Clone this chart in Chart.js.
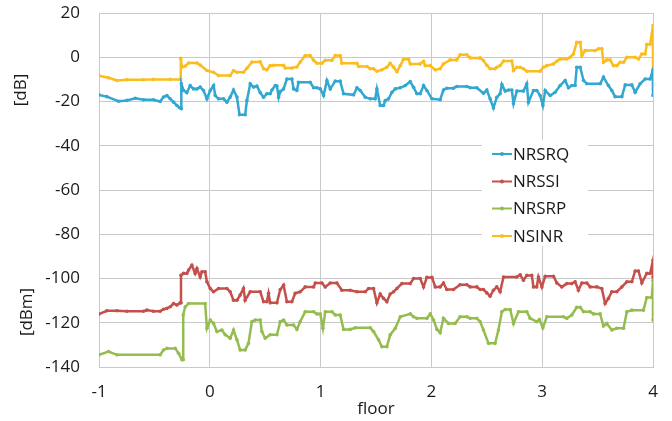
<!DOCTYPE html>
<html>
<head>
<meta charset="utf-8">
<script src="https://cdn.jsdelivr.net/npm/chart.js@4/dist/chart.umd.min.js"></script>
<style>
  html, body { margin: 0; padding: 0; background: #fff; }
</style>
</head>
<body>
<canvas id="chart" width="672" height="421"></canvas>
<script>
// floor positions and values
const nrsrqX = [-1.0,-0.929,-0.824,-0.748,-0.673,-0.598,-0.508,-0.448,-0.418,-0.387,-0.357,-0.327,-0.297,-0.273,-0.257,-0.257,-0.237,-0.207,-0.177,-0.147,-0.116,-0.087,-0.057,-0.026,0.004,0.034,0.049,0.079,0.124,0.154,0.184,0.214,0.245,0.268,0.319,0.335,0.365,0.395,0.425,0.455,0.485,0.515,0.545,0.561,0.591,0.606,0.621,0.636,0.666,0.696,0.741,0.756,0.786,0.801,0.906,0.937,0.967,0.997,1.027,1.057,1.087,1.132,1.177,1.207,1.298,1.328,1.358,1.403,1.448,1.493,1.508,1.538,1.568,1.583,1.613,1.644,1.674,1.719,1.764,1.809,1.839,1.869,1.899,1.929,1.959,2.005,2.079,2.109,2.139,2.199,2.229,2.320,2.350,2.410,2.470,2.500,2.530,2.560,2.590,2.620,2.636,2.666,2.696,2.726,2.741,2.771,2.831,2.861,2.876,2.921,2.951,2.981,3.006,3.027,3.072,3.117,3.162,3.207,3.237,3.267,3.297,3.312,3.343,3.373,3.403,3.523,3.553,3.598,3.628,3.658,3.719,3.749,3.809,3.839,3.884,3.929,3.974,3.998,4.0];
const nrsrqY = [-17.0,-17.8,-19.9,-19.5,-18.5,-19.2,-19.2,-20.0,-18.0,-17.3,-18.8,-20.3,-21.8,-22.8,-23.2,-12.0,-15.0,-16.0,-12.8,-14.3,-14.3,-13.5,-15.0,-18.8,-15.0,-12.8,-17.3,-18.8,-18.8,-20.3,-18.0,-14.8,-18.0,-26.0,-26.0,-19.5,-12.0,-13.5,-13.0,-16.0,-18.1,-16.5,-16.5,-14.8,-12.8,-13.0,-18.1,-15.5,-14.3,-9.8,-9.8,-14.3,-15.0,-11.3,-11.3,-13.8,-13.8,-14.3,-17.3,-10.5,-14.3,-10.8,-10.8,-16.5,-17.0,-13.8,-15.0,-18.1,-18.8,-18.8,-14.3,-21.8,-21.8,-19.6,-18.8,-15.8,-14.3,-13.8,-12.8,-11.0,-13.6,-16.5,-16.5,-12.8,-15.0,-18.8,-19.2,-14.8,-14.0,-14.0,-13.2,-13.2,-13.8,-13.8,-16.3,-14.8,-18.8,-22.9,-18.1,-16.5,-12.3,-15.3,-14.8,-14.8,-20.9,-15.3,-15.3,-12.0,-20.3,-15.0,-15.0,-17.3,-21.8,-15.0,-17.3,-15.8,-12.8,-10.5,-13.8,-12.8,-12.8,-4.5,-4.5,-10.5,-12.0,-12.0,-9.0,-12.8,-15.0,-17.8,-17.8,-12.5,-12.5,-15.8,-12.0,-9.8,-9.8,-6.0,-17.3];

const nrssiX = [-1.0,-0.929,-0.838,-0.748,-0.598,-0.568,-0.508,-0.448,-0.418,-0.387,-0.357,-0.327,-0.297,-0.267,-0.260,-0.260,-0.237,-0.207,-0.192,-0.162,-0.132,-0.116,-0.087,-0.071,-0.042,-0.026,0.004,0.034,0.079,0.154,0.184,0.214,0.245,0.274,0.304,0.319,0.365,0.455,0.485,0.515,0.530,0.545,0.606,0.636,0.666,0.696,0.741,0.771,0.816,0.861,0.937,0.952,1.012,1.042,1.087,1.147,1.192,1.267,1.328,1.403,1.433,1.478,1.508,1.538,1.568,1.598,1.628,1.659,1.689,1.734,1.809,1.839,1.899,1.929,1.959,2.005,2.035,2.079,2.109,2.139,2.199,2.259,2.320,2.350,2.410,2.440,2.470,2.500,2.530,2.560,2.590,2.620,2.651,2.771,2.801,2.831,2.861,2.906,2.921,2.951,2.966,2.997,3.027,3.102,3.132,3.177,3.222,3.267,3.297,3.327,3.358,3.403,3.433,3.493,3.538,3.568,3.598,3.628,3.673,3.719,3.764,3.809,3.839,3.869,3.899,3.944,3.974,4.0,4.0];
const nrssiY = [-116.1,-114.6,-114.6,-114.8,-114.8,-114.3,-114.8,-114.8,-113.9,-113.5,-112.8,-111.3,-112.0,-111.0,-111.0,-98.5,-97.7,-97.7,-96.2,-94.0,-97.7,-95.5,-99.3,-97.0,-97.0,-101.5,-104.5,-106.0,-104.5,-104.5,-106.0,-109.8,-109.8,-107.5,-104.5,-109.8,-106.0,-106.0,-110.5,-110.5,-106.7,-111.0,-111.0,-105.0,-103.0,-110.5,-110.5,-106.7,-106.0,-103.8,-103.8,-102.0,-102.0,-103.8,-102.0,-102.0,-105.3,-105.3,-106.0,-106.0,-104.5,-104.5,-111.0,-107.0,-109.0,-110.5,-107.0,-106.0,-104.5,-102.3,-102.3,-100.0,-100.0,-103.8,-99.5,-99.5,-103.8,-103.8,-102.0,-105.0,-105.0,-102.8,-102.8,-103.8,-103.8,-105.0,-105.0,-106.5,-108.0,-105.3,-103.8,-106.0,-99.3,-99.3,-98.3,-100.8,-98.6,-98.6,-103.8,-103.8,-99.3,-103.8,-99.0,-99.0,-102.0,-103.8,-102.3,-102.3,-101.5,-105.3,-102.0,-102.0,-103.8,-103.8,-104.5,-111.3,-109.0,-106.0,-106.0,-103.8,-101.5,-101.5,-96.6,-96.6,-102.0,-97.7,-97.7,-91.8,-99.3];

const nrsrpX = [-1.0,-0.914,-0.838,-0.448,-0.418,-0.387,-0.312,-0.282,-0.252,-0.240,-0.240,-0.222,-0.192,-0.042,-0.026,0.004,0.034,0.064,0.109,0.139,0.184,0.214,0.245,0.274,0.319,0.349,0.380,0.410,0.455,0.470,0.500,0.545,0.606,0.636,0.666,0.696,0.756,0.786,0.816,0.861,0.937,0.967,0.997,1.021,1.042,1.102,1.132,1.177,1.207,1.267,1.313,1.448,1.478,1.523,1.553,1.598,1.628,1.674,1.719,1.809,1.839,1.869,1.959,1.990,2.020,2.050,2.079,2.109,2.154,2.214,2.259,2.320,2.350,2.410,2.440,2.470,2.515,2.575,2.605,2.636,2.666,2.711,2.741,2.786,2.861,2.891,2.951,2.975,3.006,3.042,3.192,3.222,3.267,3.312,3.343,3.373,3.433,3.463,3.523,3.553,3.583,3.628,3.673,3.734,3.764,3.809,3.914,3.944,3.989,4.0,4.0];
const nrsrpY = [-134.5,-133.0,-134.5,-134.5,-132.3,-131.6,-131.6,-133.8,-136.7,-136.7,-116.5,-112.8,-111.3,-111.3,-122.5,-118.8,-120.3,-124.0,-123.3,-125.4,-127.0,-123.3,-127.7,-132.3,-132.3,-129.3,-119.5,-118.8,-118.8,-124.0,-127.0,-125.4,-125.4,-119.5,-118.8,-121.0,-121.0,-123.0,-119.5,-115.0,-115.0,-116.0,-116.0,-122.5,-115.0,-115.0,-116.5,-116.5,-123.0,-123.0,-122.3,-122.3,-124.0,-127.7,-130.8,-130.8,-125.5,-122.5,-117.3,-116.0,-117.3,-118.0,-118.0,-116.0,-118.8,-123.0,-124.5,-118.0,-120.3,-120.3,-117.3,-117.3,-118.0,-118.0,-119.5,-123.3,-129.3,-129.3,-123.3,-115.0,-114.0,-114.0,-120.3,-115.0,-115.0,-118.0,-119.5,-118.5,-122.3,-117.3,-117.3,-118.0,-116.5,-113.0,-113.0,-115.0,-115.0,-116.0,-116.0,-121.5,-120.3,-123.3,-122.5,-122.5,-115.0,-114.3,-114.3,-108.6,-108.6,-100.8,-118.8];

const nsinrX = [-1.0,-0.914,-0.838,-0.748,-0.598,-0.508,-0.357,-0.262,-0.262,-0.252,-0.222,-0.192,-0.116,-0.087,-0.026,0.034,0.079,0.184,0.214,0.245,0.304,0.335,0.380,0.455,0.485,0.515,0.545,0.576,0.666,0.681,0.741,0.786,0.816,0.861,0.906,0.937,0.967,1.012,1.042,1.102,1.132,1.177,1.192,1.328,1.343,1.418,1.448,1.478,1.508,1.553,1.598,1.628,1.659,1.689,1.719,1.749,1.794,1.809,1.899,1.929,1.944,1.990,2.035,2.079,2.109,2.169,2.229,2.259,2.320,2.350,2.440,2.470,2.500,2.530,2.575,2.590,2.620,2.651,2.726,2.741,2.771,2.801,2.831,2.861,2.981,3.012,3.042,3.102,3.132,3.162,3.222,3.252,3.282,3.312,3.343,3.358,3.388,3.478,3.508,3.538,3.553,3.583,3.613,3.643,3.673,3.703,3.734,3.764,3.839,3.869,3.899,3.929,3.944,3.974,4.0,4.0];
const nsinrY = [-8.3,-9.3,-10.5,-10.2,-10.2,-10.0,-10.0,-10.0,-0.5,-4.5,-4.0,-2.6,-2.6,-3.5,-6.0,-6.8,-8.3,-8.3,-6.0,-6.8,-6.8,-5.0,-2.2,-2.0,-5.2,-5.7,-3.8,-3.6,-3.6,-4.9,-4.9,-4.4,-2.2,0.8,0.8,-1.4,-2.7,-2.7,-1.4,-1.4,0.8,0.8,-2.7,-2.7,-4.2,-4.2,-5.2,-5.2,-6.3,-5.7,-4.5,-2.7,-4.5,-6.5,-3.8,-0.9,-0.9,-3.0,-3.0,-1.8,-3.8,-3.8,-5.7,-5.2,-3.0,-1.2,-1.2,1.1,1.1,-0.3,-0.3,-1.5,-3.6,-5.2,-5.2,-4.5,-3.8,-1.7,-1.7,-6.0,-4.5,-4.5,-5.2,-6.3,-6.3,-4.5,-3.8,-3.0,-1.8,-0.8,-0.8,0.0,1.5,6.8,6.8,0.8,3.0,3.0,3.8,3.8,-2.3,-1.2,-1.2,-3.8,-3.8,-2.3,-2.3,0.0,0.0,-0.8,1.5,1.5,5.9,5.9,14.3,-5.5];

const seriesNames = ["NRSRQ", "NRSSI", "NRSRP", "NSINR"];
const seriesColors = ["#31a7d1", "#c4504c", "#95bc4f", "#fbbd1e"];
const yTicks = [-140, -120, -100, -80, -60, -40, -20, 0, 20];

function toPoints(xs, ys) {
  return xs.map((x, i) => ({ x: x, y: ys[i] }));
}

const seriesData = [
  toPoints(nrsrqX, nrsrqY),
  toPoints(nrssiX, nrssiY),
  toPoints(nrsrpX, nrsrpY),
  toPoints(nsinrX, nsinrY)
];

const gridColor = "#c9c9c9";
const fontFamily = "'Open Sans', 'Noto Sans', sans-serif";

// unit labels at the left and the legend box inside the plot
const extras = {
  id: "extras",
  afterDatasetsDraw(chart) {
    const ctx = chart.ctx;
    ctx.save();
    ctx.fillStyle = "#1a1a1a";
    ctx.font = "17px " + fontFamily;
    ctx.textAlign = "center";
    ctx.textBaseline = "middle";
    [["[dB]", 21, 90], ["[dBm]", 27, 312]].forEach(([t, x, y]) => {
      ctx.save();
      ctx.translate(x, y);
      ctx.rotate(-Math.PI / 2);
      ctx.fillText(t, 0, 0);
      ctx.restore();
    });

    ctx.fillStyle = "#fff";
    ctx.fillRect(482, 140, 106, 106);
    ctx.textAlign = "left";
    const rows = [154, 181.5, 208.5, 236];
    seriesNames.forEach((name, i) => {
      const y = rows[i];
      ctx.strokeStyle = seriesColors[i];
      ctx.lineWidth = 2;
      ctx.beginPath();
      ctx.moveTo(492, y);
      ctx.lineTo(512, y);
      ctx.stroke();
      ctx.fillStyle = seriesColors[i];
      ctx.beginPath();
      ctx.arc(502, y, 2, 0, Math.PI * 2);
      ctx.fill();
      ctx.fillStyle = "#1a1a1a";
      ctx.fillText(name, 513, y + 1);
    });
    ctx.restore();
  }
};

new Chart(document.getElementById("chart"), {
  type: "line",
  data: {
    datasets: seriesNames.map((name, i) => ({
      label: name,
      data: seriesData[i],
      borderColor: seriesColors[i],
      backgroundColor: seriesColors[i],
      borderWidth: 2.5,
      pointRadius: 1.8,
      pointBorderWidth: 0,
      tension: 0,
      fill: false
    }))
  },
  options: {
    responsive: false,
    animation: false,
    layout: { padding: { left: 0, right: 19, top: 13, bottom: 0 } },
    plugins: { legend: { display: false }, tooltip: { enabled: false } },
    scales: {
      x: {
        type: "linear",
        min: -1,
        max: 4,
        afterFit: (s) => { s.height = 54; },
        ticks: { stepSize: 1, padding: 0, color: "#1a1a1a", font: { family: fontFamily, size: 17 } },
        grid: { color: gridColor, drawTicks: true, tickLength: 15, tickColor: "rgba(0,0,0,0)" },
        border: { color: gridColor },
        title: { display: true, text: "floor", color: "#1a1a1a", padding: { top: 0, bottom: 2 }, font: { family: fontFamily, size: 17 } }
      },
      y: {
        min: -140,
        max: 20,
        afterFit: (s) => { s.width = 99; },
        afterBuildTicks: (s) => { s.ticks = yTicks.map(v => ({ value: v })); },
        ticks: { padding: 0, color: "#1a1a1a", font: { family: fontFamily, size: 17 } },
        grid: { color: gridColor, drawTicks: true, tickLength: 19, tickColor: "rgba(0,0,0,0)" },
        border: { color: gridColor }
      }
    }
  },
  plugins: [extras]
});
</script>
</body>
</html>
